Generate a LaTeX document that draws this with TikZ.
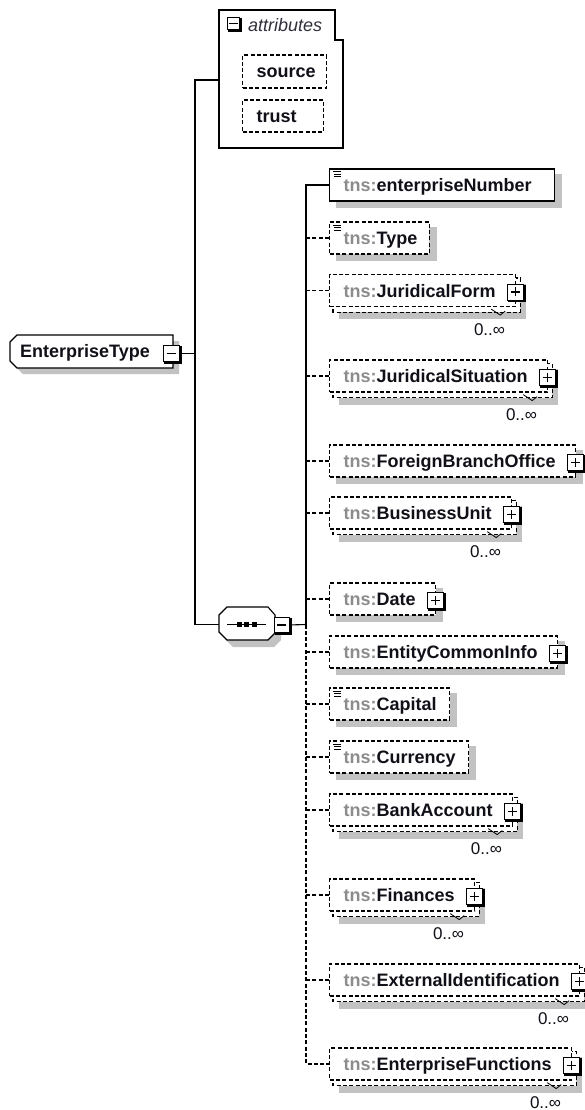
\documentclass[tikz,border=0pt]{standalone}
\usepackage{fontspec}
\setmainfont{Liberation Sans}
\usetikzlibrary{calc}
\pgfdeclarelayer{bglayer}
\pgfdeclarelayer{shadowlayer}
\pgfdeclarelayer{backlayer}
\pgfsetlayers{bglayer,shadowlayer,backlayer,main}
\definecolor{shadowgray}{HTML}{C2C2C2}
\definecolor{tnsgray}{HTML}{8C8C8C}
\definecolor{txt}{HTML}{101018}
\definecolor{attrtxt}{HTML}{30303C}
\newcommand\tns{\textcolor{tnsgray}{tns:}}
\tikzset{
  conn/.style={line width=1.1pt, draw=black},
  optconn/.style={conn, dash pattern=on 4pt off 2.3pt},
  elbox/.style={draw, fill=white, line width=1.2pt, rectangle, anchor=west,
    minimum height=32pt, inner xsep=0pt, inner ysep=0pt, text height=13pt,
    text depth=0pt, font=\bfseries\fontsize{18}{20}\selectfont, text=txt},
  optbox/.style={elbox, dash pattern=on 4pt off 2.3pt},
  cardtxt/.style={anchor=base east, inner sep=0pt, font=\fontsize{17}{19}\selectfont, text=txt},
  shapeline/.style={line width=1.1pt, draw=black, fill=white},
}
\newcommand\pmbox[3]{%
  \node[draw, fill=white, line width=0.9pt, minimum size=#3pt, inner sep=0pt, anchor=north west] (#1) at #2 {};
  \draw[line width=2pt] ([shift={(1pt,-1pt)}]#1.north east) -- ([shift={(1pt,-1pt)}]#1.south east) -- ([shift={(1pt,-1pt)}]#1.south west);}
\newcommand\minussign[1]{\draw[line width=1.2pt] ([xshift=-4.5pt]#1.center) -- ([xshift=4.5pt]#1.center);}
\newcommand\plussign[1]{\minussign{#1}\draw[line width=1.2pt] ([yshift=-4.5pt]#1.center) -- ([yshift=4.5pt]#1.center);}
\newcommand\shadowof[1]{\begin{pgfonlayer}{shadowlayer}\fill[shadowgray] ([shift={(7pt,-6pt)}]#1.north west) rectangle ([shift={(7pt,-6pt)}]#1.south east);\end{pgfonlayer}}
\newcommand\multiof[1]{%
  \begin{pgfonlayer}{backlayer}\draw[line width=1.2pt, dash pattern=on 4pt off 2.3pt, fill=white] ([shift={(4pt,-4pt)}]#1.north west) rectangle ([shift={(4pt,-5pt)}]#1.south east);\end{pgfonlayer}
  \begin{pgfonlayer}{shadowlayer}\fill[shadowgray] ([shift={(10pt,-10pt)}]#1.north west) rectangle ([shift={(10pt,-12pt)}]#1.south east);\end{pgfonlayer}
  \draw[line width=0.8pt] ([shift={(-25pt,-2pt)}]#1.south east) -- ([shift={(-16pt,-8pt)}]#1.south east) -- ([shift={(-11pt,-4pt)}]#1.south east);
  \node[cardtxt] (#1c) at ([shift={(-11pt,-28pt)}]#1.south east) {0..∞};}
\newcommand\plusof[1]{\pmbox{#1p}{($(#1.east)+(-9pt,7pt)$)}{16}\plussign{#1p}}
\newcommand\iconof[1]{%
  \draw[line width=0.8pt] ([shift={(4pt,-3.5pt)}]#1.north west) -- ++(8pt,0pt);
  \draw[line width=0.8pt] ([shift={(5pt,-6pt)}]#1.north west) -- ++(7pt,0pt);
  \draw[line width=0.8pt] ([shift={(5pt,-8.5pt)}]#1.north west) -- ++(7pt,0pt);}
\begin{document}
\begin{tikzpicture}[x=1pt,y=-1pt]
\useasboundingbox (0,0) rectangle (585,1110);
\begin{pgfonlayer}{bglayer}\fill[white] (0,0) rectangle (585,1110);\end{pgfonlayer}

% ---------- EnterpriseType ----------
\fill[shadowgray] (23,341) -- (179,341) -- (179,374) -- (23,374) -- (16,367) -- (16,348) -- cycle;
\draw[shapeline] (17,335) -- (173,335) -- (173,368) -- (17,368) -- (10,361) -- (10,342) -- cycle;
\node[anchor=base west, inner sep=0pt, font=\bfseries\fontsize{18}{20}\selectfont, text=txt] (etlabel) at (20,357.5) {EnterpriseType};
\pmbox{etm}{(163,345)}{16}\minussign{etm}

% ---------- attributes ----------
\draw[line width=1.1pt, fill=white] (219,10) -- (335,10) -- (335,40) -- (343,40) -- (343,148) -- (219,148) -- cycle;
\pmbox{am}{(227,17)}{12}\minussign{am}
\node[anchor=base west, inner sep=0pt, font=\itshape\fontsize{18}{20}\selectfont, text=attrtxt] (attrlabel) at (248,31.5) {attributes};
\node[optbox, minimum height=33pt] (src) at (242,71.5) {\hspace*{14pt}source\hspace*{11pt}};
\shadowof{src}
\node[optbox, minimum height=32pt] (trust) at (242,116) {\hspace*{14pt}trust\hspace*{27pt}};
\shadowof{trust}

% ---------- sequence ----------
\fill[shadowgray] (233,614) -- (274,614) -- (281,622) -- (281,640) -- (274,647) -- (233,647) -- (225,639) -- (225,622) -- cycle;
\draw[shapeline] (227,607) -- (268,607) -- (275,615) -- (275,633) -- (268,640) -- (227,640) -- (219,632) -- (219,615) -- cycle;
\draw[line width=1pt] (227,624) -- (266,624);
\fill[black] (237,622) rectangle (242,627);
\fill[black] (244,622) rectangle (249,627);
\fill[black] (252,622) rectangle (257,627);
\pmbox{sm}{(274,617)}{15}\minussign{sm}

% ---------- connectors (left) ----------
\coordinate (ja) at (195,80);
\coordinate (jb) at (195,624.5);
\coordinate (attrL) at (219,80);
\coordinate (seqW) at (219,624.5);
\draw[conn] (etm.east) -- (etm.east -| ja);
\draw[conn] (attrL) -- (ja) -- (jb) -- (seqW);

% ---------- elements ----------
\node[elbox] (n1) at (329,185) {\hspace*{14pt}\tns enterpriseNumber\hspace*{23pt}};
\shadowof{n1}\iconof{n1}
\node[optbox] (n2) at (329,238) {\hspace*{14pt}\tns Type\hspace*{12pt}};
\shadowof{n2}\iconof{n2}
\node[optbox] (n3) at (329,290.5) {\hspace*{14pt}\tns JuridicalForm\hspace*{20pt}};
\multiof{n3}\plusof{n3}
\node[optbox] (n4) at (329,376) {\hspace*{14pt}\tns JuridicalSituation\hspace*{20pt}};
\multiof{n4}\plusof{n4}
\node[optbox] (n5) at (329,461) {\hspace*{14pt}\tns ForeignBranchOffice\hspace*{20pt}};
\shadowof{n5}\plusof{n5}
\node[optbox] (n6) at (329,513) {\hspace*{14pt}\tns BusinessUnit\hspace*{20pt}};
\multiof{n6}\plusof{n6}
\node[optbox] (n7) at (329,599) {\hspace*{14pt}\tns Date\hspace*{20pt}};
\shadowof{n7}\plusof{n7}
\node[optbox] (n8) at (329,652) {\hspace*{14pt}\tns EntityCommonInfo\hspace*{20pt}};
\shadowof{n8}\plusof{n8}
\node[optbox] (n9) at (329,704) {\hspace*{14pt}\tns Capital\hspace*{13pt}};
\shadowof{n9}\iconof{n9}
\node[optbox] (n10) at (329,757) {\hspace*{14pt}\tns Currency\hspace*{13pt}};
\shadowof{n10}\iconof{n10}
\node[optbox] (n11) at (329,810) {\hspace*{14pt}\tns BankAccount\hspace*{20pt}};
\multiof{n11}\plusof{n11}
\node[optbox] (n12) at (329,895) {\hspace*{14pt}\tns Finances\hspace*{20pt}};
\multiof{n12}\plusof{n12}
\node[optbox] (n13) at (329,980) {\hspace*{14pt}\tns ExternalIdentification\hspace*{20pt}};
\multiof{n13}\plusof{n13}
\node[optbox] (n14) at (329,1064) {\hspace*{14pt}\tns EnterpriseFunctions\hspace*{20pt}};
\multiof{n14}\plusof{n14}

% ---------- connectors (right) ----------
\coordinate (sq) at (306,624.5);
\draw[conn] (sm.east) -- (sq);
\draw[conn] (sq) |- (n1.west);
\draw[optconn] (sq) |- (n14.west);
\foreach \k in {2,...,13}{\draw[optconn] (n\k.west -| sq) -- (n\k.west);}
\end{tikzpicture}
\end{document}
